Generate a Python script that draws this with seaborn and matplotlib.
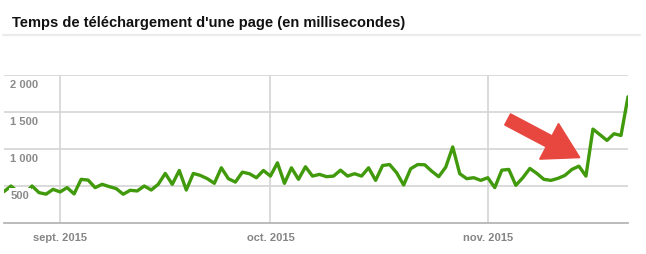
import matplotlib
matplotlib.use("Agg")
import matplotlib.pyplot as plt
import matplotlib.transforms as mtransforms
from matplotlib.lines import Line2D
import numpy as np
import pandas as pd
import seaborn as sns

# ---- data ----
start_date = "2015-08-24"
load_ms = [425, 500, 420, 400, 500, 410, 390, 455, 420, 478,
           393, 590, 580, 478, 523, 492, 465, 389, 442, 433,
           500, 446, 523, 670, 523, 710, 446, 670, 643, 599,
           536, 746, 599, 553, 687, 666, 612, 710, 634, 813,
           536, 746, 590, 760, 634, 657, 626, 634, 714, 634,
           666, 634, 746, 576, 777, 790, 679, 513, 733, 790,
           787, 701, 626, 754, 1028, 666, 599, 612, 576, 612,
           478, 714, 724, 509, 612, 737, 670, 590, 576, 603,
           643, 724, 768, 634, 1269, 1193, 1116, 1206, 1183, 1706]
month_ticks = ["2015-09-01", "2015-10-01", "2015-11-01"]
month_labels = ["sept. 2015", "oct. 2015", "nov. 2015"]
ytick_vals = [500, 1000, 1500, 2000]
ytick_labels = ["500", "1 000", "1 500", "2 000"]
title = "Temps de téléchargement d'une page (en millisecondes)"
arrow_tail = ("2015-11-03 20:00", 1400)
arrow_tip = ("2015-11-14 03:00", 884)

dates = pd.date_range(start_date, periods=len(load_ms), freq="D")
df = pd.DataFrame({"date": dates, "ms": load_ms})

sns.set_theme(style="white")
plt.rcParams["font.family"] = ["Liberation Sans", "DejaVu Sans"]

W, H = 646, 255
fig = plt.figure(figsize=(W / 100, H / 100), dpi=100)
ax = fig.add_axes([4 / W, 1 - 224 / H, 624 / W, 148 / H])

sns.lineplot(data=df, x="date", y="ms", ax=ax, color="#419a0c", linewidth=2.4, zorder=3)

ax.set_xlim(dates[0], dates[-1])
ax.set_ylim(0, 2000)
ax.set_xlabel("")
ax.set_ylabel("")

# grid
for v in ytick_vals:
    ax.axhline(v, color="#d4d4d4", linewidth=1.2, zorder=1)
for m in month_ticks:
    ax.axvline(pd.Timestamp(m), color="#d4d4d4", linewidth=1.2, zorder=1)
for s in ["top", "right", "left"]:
    ax.spines[s].set_visible(False)
ax.spines["bottom"].set_color("#b5b5b5")
ax.spines["bottom"].set_linewidth(1.3)

ax.set_yticks([])
ax.set_xticks([pd.Timestamp(m) for m in month_ticks])
ax.set_xticklabels(month_labels, fontsize=8, fontweight="bold", color="#858585")
ax.tick_params(axis="x", length=0, pad=6.5)

# y labels inside plot
off = mtransforms.ScaledTranslation(0, -9 / 100, fig.dpi_scale_trans)
trans = mtransforms.blended_transform_factory(ax.transAxes, ax.transData) + off
for v, lab in zip(ytick_vals, ytick_labels):
    ax.text(6.5 / 624, v, lab, transform=trans, ha="left", va="center",
            fontsize=8, fontweight="bold", color="#8a8a8a", zorder=5,
            bbox=dict(boxstyle="square,pad=0.15", fc="white", ec="none"))

# title
fig.text(11.5 / W, 1 - 22.5 / H, title, ha="left", va="center",
         fontsize=10.5, fontweight="bold", color="#111111")
fig.add_artist(Line2D([3 / W, 640 / W], [1 - 35.5 / H, 1 - 35.5 / H],
                      transform=fig.transFigure, color="#ebebeb", linewidth=1.6))

# red arrow annotation
ax.annotate("", xy=(pd.Timestamp(arrow_tip[0]), arrow_tip[1]),
            xytext=(pd.Timestamp(arrow_tail[0]), arrow_tail[1]),
            arrowprops=dict(arrowstyle="simple,head_length=1.25,head_width=1.45,tail_width=0.45",
                            mutation_scale=20, color="#e8473f", shrinkA=0, shrinkB=0,
                            capstyle="round", joinstyle="miter"),
            zorder=6)

fig.savefig("out.png", dpi=100, facecolor="white")
